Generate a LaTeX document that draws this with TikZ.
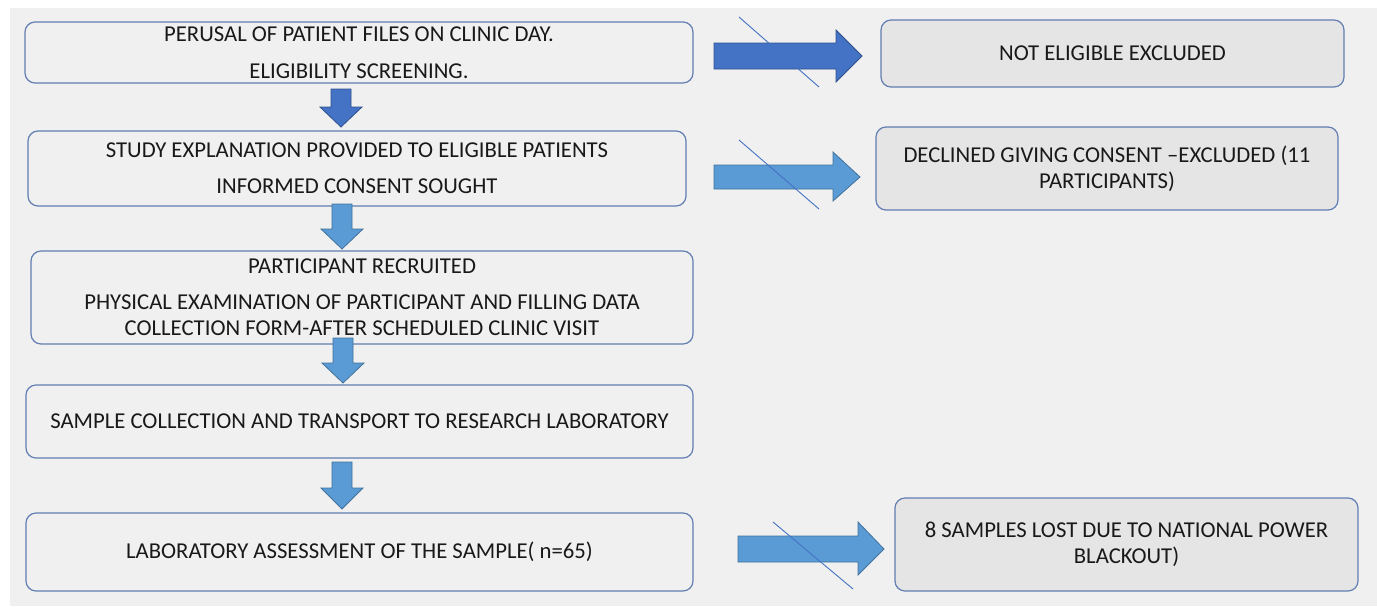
\documentclass[tikz,border=0pt]{standalone}
\usepackage{fontspec}
\setmainfont{Carlito}
\usetikzlibrary{positioning}
\definecolor{bgcol}{RGB}{240,240,240}
\definecolor{boxline}{RGB}{98,126,178}
\definecolor{sidefill}{RGB}{229,229,229}
\definecolor{darkblue}{RGB}{68,114,196}
\definecolor{darkedge}{RGB}{47,82,143}
\definecolor{lightblue}{RGB}{91,155,213}
\definecolor{lightedge}{RGB}{65,113,156}
\begin{document}
\begin{tikzpicture}[x=1pt,y=-1pt,
		stepbox/.style={rectangle,rounded corners=10pt,draw=boxline,line width=1.2pt,fill=bgcol,align=center,text=black!90,font=\fontsize{22.7}{26}\selectfont},
		sidebox/.style={stepbox,fill=sidefill},
		darkarrow/.style={fill=darkblue,draw=darkedge,line width=0.8pt},
		lightarrow/.style={fill=lightblue,draw=lightedge,line width=0.8pt},
		strike/.style={draw=darkblue,line width=0.9pt}]
		\useasboundingbox (0,0) rectangle (1377,606);
		\fill[bgcol] (10,8) rectangle (1377,606);

		\node[stepbox,minimum width=668pt,minimum height=61pt]	(0)	at (359,52.5)	{PERUSAL OF PATIENT FILES ON CLINIC DAY.\\[11pt]ELIGIBILITY SCREENING.};
		\node[stepbox,minimum width=658pt,minimum height=75pt]	(1)	at (357,168.5)	{STUDY EXPLANATION PROVIDED TO ELIGIBLE PATIENTS\\[10pt]INFORMED CONSENT SOUGHT};
		\node[stepbox,minimum width=662pt,minimum height=93pt]	(2)	at (362,297.5)	{PARTICIPANT RECRUITED\\[10pt]PHYSICAL EXAMINATION OF PARTICIPANT AND FILLING DATA\\COLLECTION FORM-AFTER SCHEDULED CLINIC VISIT};
		\node[stepbox,minimum width=667pt,minimum height=73pt]	(3)	at (359.5,421.5)	{SAMPLE COLLECTION AND TRANSPORT TO RESEARCH LABORATORY};
		\node[stepbox,minimum width=667pt,minimum height=78pt]	(4)	at (359.5,552)	{LABORATORY ASSESSMENT OF THE SAMPLE( n=65)};

		\node[sidebox,minimum width=463pt,minimum height=67pt]	(5)	at (1112.5,53.5)	{NOT ELIGIBLE EXCLUDED};
		\node[sidebox,minimum width=462pt,minimum height=83pt]	(6)	at (1107,168.5)	{DECLINED GIVING CONSENT --EXCLUDED (11\\PARTICIPANTS)};
		\node[sidebox,minimum width=463pt,minimum height=93pt]	(7)	at (1126.5,544.5)	{8 SAMPLES LOST DUE TO NATIONAL POWER\\BLACKOUT)};

		% down arrows
		\draw[darkarrow] (331,89) -- (351,89) -- (351,107) -- (362,107) -- (341,127) -- (320,107) -- (331,107) -- cycle;
		\draw[lightarrow] (332,204) -- (352,204) -- (352,229) -- (363,229) -- (342,249) -- (321,229) -- (332,229) -- cycle;
		\draw[lightarrow] (333,338) -- (353,338) -- (353,363) -- (364,363) -- (343,383) -- (322,363) -- (333,363) -- cycle;
		\draw[lightarrow] (332,462) -- (352,462) -- (352,488) -- (363,488) -- (342,509) -- (321,488) -- (332,488) -- cycle;

		% side arrows
		\draw[darkarrow] (714,43) -- (836,43) -- (836,30) -- (862,56) -- (836,82) -- (836,69) -- (714,69) -- cycle;
		\draw[lightarrow] (714,165) -- (833,165) -- (833,152) -- (860,177) -- (833,201) -- (833,189) -- (714,189) -- cycle;
		\draw[lightarrow] (738,536) -- (858,536) -- (858,522) -- (884,549) -- (858,575) -- (858,562) -- (738,562) -- cycle;

		\draw[strike] (739,17) -- (819,87);
		\draw[strike] (739,140) -- (819,209);
		\draw[strike] (773,522) -- (853,589);
	\end{tikzpicture}
\end{document}
